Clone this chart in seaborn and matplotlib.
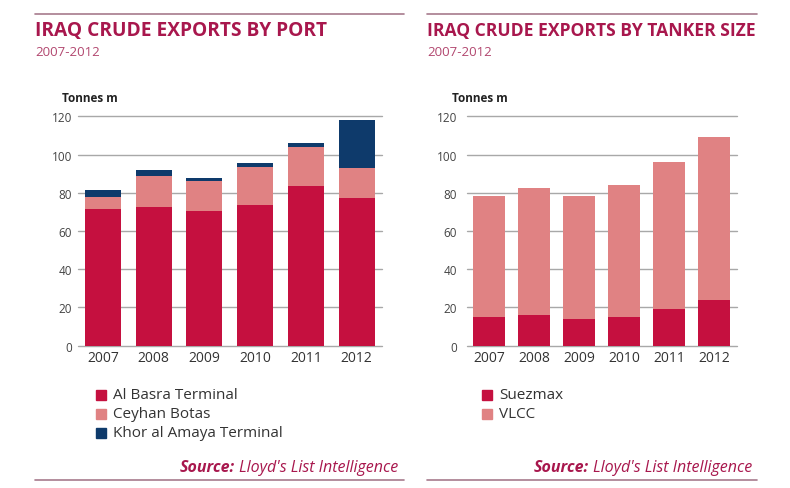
import matplotlib
matplotlib.use("Agg")
import matplotlib.pyplot as plt
import seaborn as sns
import pandas as pd
import numpy as np

# ---- data ----
years = ["2007", "2008", "2009", "2010", "2011", "2012"]
al_basra = [71.5, 72.7, 70.3, 73.8, 83.6, 77.1]
ceyhan = [6.5, 16.3, 15.7, 19.5, 20.2, 15.9]
khor_al_amaya = [3.6, 2.9, 1.9, 2.1, 2.4, 25.3]
suezmax = [14.8, 16.1, 14.1, 14.8, 19.4, 24.1]
vlcc = [63.4, 66.3, 64.4, 69.3, 76.9, 85.3]
y_ticks = [0, 20, 40, 60, 80, 100, 120]

port_labels = ["Al Basra Terminal", "Ceyhan Botas", "Khor al Amaya Terminal"]
size_labels = ["Suezmax", "VLCC"]

CRIMSON = "#c5103f"
PINK = "#e08283"
NAVY = "#0e3a6b"
TITLE_C = "#a8174d"
SUB_C = "#b2476f"
RULE_C = "#a77a8c"
GRID_C = "#a8a8a8"
TEXT_C = "#333333"

sns.set_theme(style="white")
plt.rcParams["font.family"] = ["Open Sans", "DejaVu Sans"]

W, H = 790, 489
fig = plt.figure(figsize=(W / 100, H / 100), dpi=100)
renderer = fig.canvas.get_renderer()


def fx(x):
    return x / W


def fy(y):
    return 1 - y / H


def fit(t, width):
    bb = t.get_window_extent(renderer)
    t.set_fontsize(t.get_fontsize() * width / bb.width)
    return t


def stacked(ax, series, colors):
    cum = np.cumsum(np.array(series, dtype=float), axis=0)
    for i in range(len(series) - 1, -1, -1):
        df = pd.DataFrame({"year": years, "value": cum[i]})
        sns.barplot(data=df, x="year", y="value", color=colors[i], width=0.71,
                    saturation=1, ax=ax, zorder=3, linewidth=0)


def style_axes(ax, tickpad):
    ax.set_xlim(-0.5, 5.5)
    ax.set_ylim(0, 120)
    ax.set_yticks(y_ticks)
    ax.set_yticklabels([str(t) for t in y_ticks])
    for t in y_ticks:
        ax.axhline(t, color=GRID_C, lw=1.0, zorder=1, clip_on=False)
    for s in ax.spines.values():
        s.set_visible(False)
    ax.set_xlabel("")
    ax.set_ylabel("")
    ax.tick_params(axis="both", length=0, colors=TEXT_C)
    ax.tick_params(axis="y", pad=tickpad, labelsize=8.5, labelcolor="#444444")
    ax.tick_params(axis="x", pad=3, labelsize=10)
    ax.patch.set_alpha(0)


axb, axt = 346.7, 117.3
ax1 = fig.add_axes([fx(77.6), fy(axb), fx(382) - fx(77.6), fy(axt) - fy(axb)])
stacked(ax1, [al_basra, ceyhan, khor_al_amaya], [CRIMSON, PINK, NAVY])
style_axes(ax1, 4)

ax2 = fig.add_axes([fx(466.7), fy(axb), fx(736.7) - fx(466.7), fy(axt) - fy(axb)])
stacked(ax2, [suezmax, vlcc], [CRIMSON, PINK])
style_axes(ax2, 7)

# ---- headers ----
for x0, x1, title, tw, tonx in [(35, 404, "IRAQ CRUDE EXPORTS BY PORT", 293, 62),
                                 (427, 757, "IRAQ CRUDE EXPORTS BY TANKER SIZE", 330, 452)]:
    fig.add_artist(plt.Line2D([fx(x0), fx(x1)], [fy(15), fy(15)], color=RULE_C, lw=1.2))
    fig.add_artist(plt.Line2D([fx(x0), fx(x1)], [fy(481), fy(481)], color=RULE_C, lw=1.2))
    t = fig.text(fx(x0), fy(31), title, color=TITLE_C, fontsize=14, fontweight="bold",
                 va="center", ha="left")
    fit(t, tw)
    fig.text(fx(x0), fy(52), "2007-2012", color=SUB_C, fontsize=9.5, va="center", ha="left")
    fig.text(fx(tonx), fy(99), "Tonnes m", color="#222222", fontsize=8.5, fontweight="bold",
             va="center", ha="left")

# ---- legends ----
def legend(x_sq, rows, labels, colors):
    for y, lab, c in zip(rows, labels, colors):
        fig.add_artist(plt.Rectangle((fx(x_sq), fy(y + 5)), fx(10), 10 / H,
                                     color=c, transform=fig.transFigure))
        fig.text(fx(x_sq + 17), fy(y), lab, color=TEXT_C, fontsize=11,
                 va="center", ha="left")


legend(96, [396, 415, 434], port_labels, [CRIMSON, PINK, NAVY])
legend(482, [396, 415], size_labels, [CRIMSON, PINK])

# ---- source ----
for xr in [398, 752]:
    t = fig.text(fx(xr), fy(468), "Lloyd's List Intelligence", color=TITLE_C,
                 fontsize=11.5, fontstyle="italic", ha="right", va="center")
    bb = t.get_window_extent(renderer)
    fig.text(bb.x0 / W - fx(4), fy(468), "Source:", color=TITLE_C, fontsize=11.5,
             fontstyle="italic", fontweight="bold", ha="right", va="center")

fig.savefig("out.png", dpi=100)
